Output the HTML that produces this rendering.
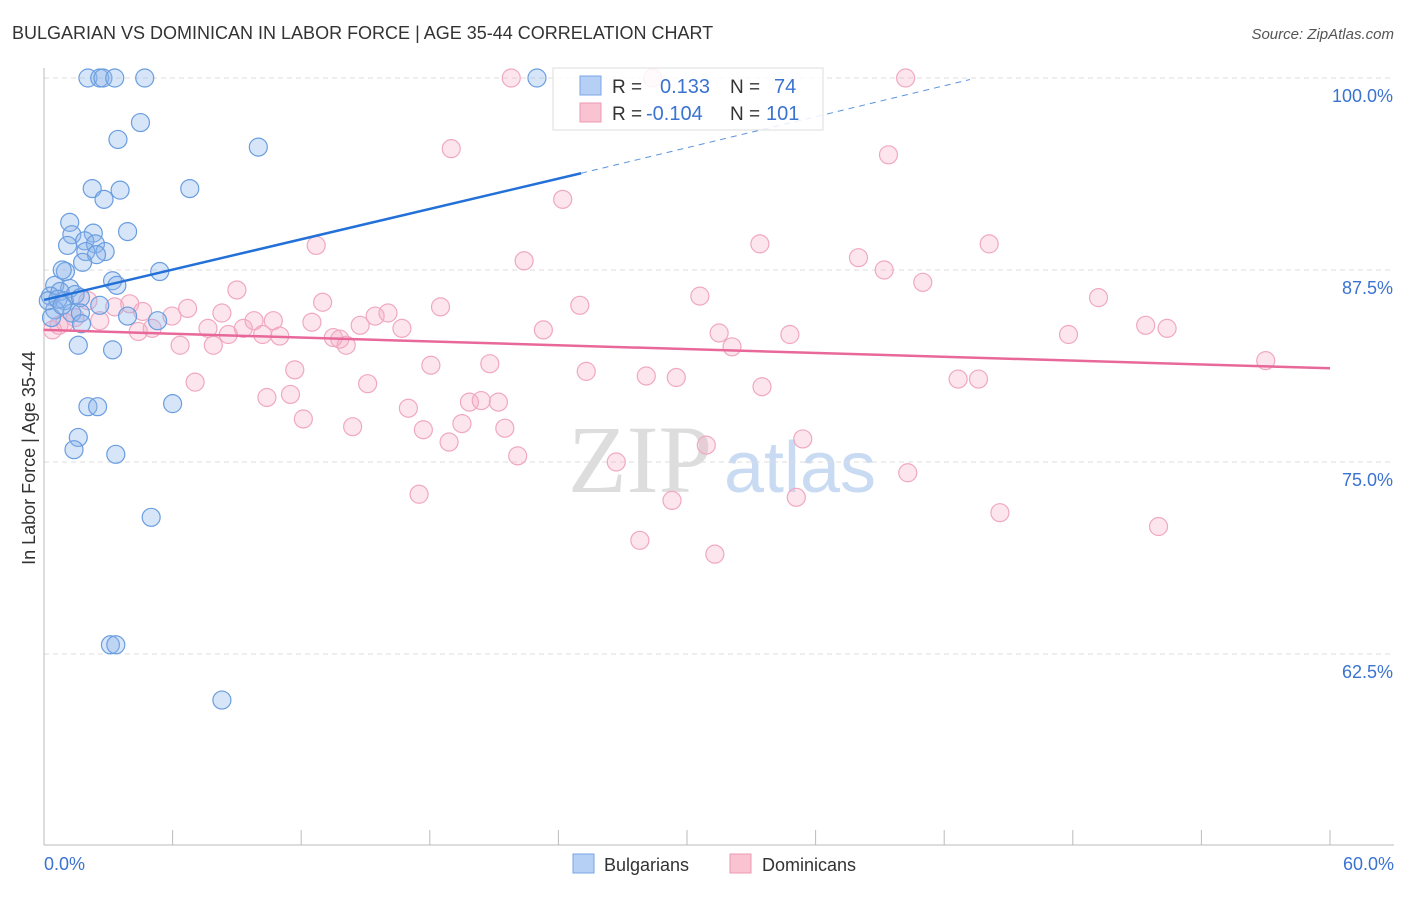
<!DOCTYPE html>
<html><head><meta charset="utf-8"><style>
body{margin:0;background:#fff;font-family:"Liberation Sans",sans-serif;}
</style></head><body>
<svg id="chart" width="1406" height="892" xmlns="http://www.w3.org/2000/svg">
<text x="12" y="39" font-size="18" fill="#333">BULGARIAN VS DOMINICAN IN LABOR FORCE | AGE 35-44 CORRELATION CHART</text>
<text x="1394" y="39" font-size="15" fill="#555" text-anchor="end" font-style="italic">Source: ZipAtlas.com</text>
<text x="35" y="458" font-size="18" fill="#333" text-anchor="middle" transform="rotate(-90 35 458)">In Labor Force | Age 35-44</text>
<text x="640" y="492" font-size="96" fill="#ddd" font-family="Liberation Serif,serif" text-anchor="middle">ZIP</text>
<text x="800" y="492" font-size="72" fill="#c9dbf2" text-anchor="middle">atlas</text>
<g id="grid"></g><g id="pts"></g><g id="lines"></g>
<g>
<rect x="553" y="68" width="270" height="62" fill="#fff" fill-opacity="0.85" stroke="#ddd"/>
<rect x="580" y="76" width="21" height="19" fill="#b5cff5" stroke="#7aa6e6"/>
<rect x="580" y="103" width="21" height="19" fill="#f9c3d2" stroke="#ef9ab3"/>
<text x="612" y="93" font-size="19" fill="#333">R =</text><text x="660" y="93" font-size="20" fill="#3a73d0">0.133</text>
<text x="730" y="93" font-size="19" fill="#333">N =</text><text x="774" y="93" font-size="20" fill="#3a73d0">74</text>
<text x="612" y="120" font-size="19" fill="#333">R =</text><text x="646" y="120" font-size="20" fill="#3a73d0">-0.104</text>
<text x="730" y="120" font-size="19" fill="#333">N =</text><text x="766" y="120" font-size="20" fill="#3a73d0">101</text>
</g>
<g>
<rect x="573" y="854" width="21" height="19" fill="#b5cff5" stroke="#7aa6e6"/>
<text x="604" y="871" font-size="18" fill="#333">Bulgarians</text>
<rect x="730" y="854" width="21" height="19" fill="#f9c3d2" stroke="#ef9ab3"/>
<text x="762" y="871" font-size="18" fill="#333">Dominicans</text>
</g>
</svg>
<script>
const blueX=[2.05,2.6,2.75,3.3,4.7,23.0,4.5,3.45,10.0,2.25,3.55,6.8,2.8,1.2,3.9,1.3,2.3,1.9,2.4,1.1,1.95,2.85,2.45,1.8,1.0,0.85,5.4,3.2,3.4,0.5,1.2,0.75,0.3,1.45,0.95,1.7,2.6,0.5,1.3,1.7,0.35,3.9,1.75,5.3,1.6,3.2,2.05,2.5,6.0,1.6,1.4,3.35,5.0,3.1,3.35,8.3,0.2,0.65,0.85];
const blueY=[100,100,100,100,100,100,97.1,96.0,95.5,92.8,92.7,92.8,92.1,90.6,90.0,89.8,89.9,89.4,89.2,89.1,88.7,88.7,88.5,88.0,87.4,87.5,87.4,86.8,86.5,86.5,86.3,86.1,85.8,85.9,85.5,85.7,85.2,84.9,84.7,84.7,84.4,84.5,84.0,84.2,82.6,82.3,78.6,78.6,78.8,76.6,75.8,75.5,71.4,63.1,63.1,59.5,85.5,85.6,85.2];
const pinkX=[21.8,28.4,40.2,19.0,39.4,24.2,12.7,33.4,44.1,22.4,38.0,39.2,41.0,9.0,30.6,49.2,13.0,18.5,25.0,4.0,6.7,2.05,3.3,8.3,16.05,15.45,5.97,4.6,2.6,0.98,9.8,10.7,12.5,14.75,16.7,23.3,7.65,9.3,4.4,5.05,8.6,10.2,11.0,13.5,13.8,14.1,6.35,7.9,31.5,34.8,47.8,51.4,52.4,32.1,57.0,11.7,18.05,20.8,25.3,28.1,29.5,7.05,15.1,33.5,42.65,43.6,10.4,11.5,19.85,20.4,21.2,17.0,12.1,14.4,17.7,19.5,21.5,18.9,30.9,35.4,22.1,26.7,40.3,17.5,29.3,35.1,44.6,52.0,27.8,31.3,0.4,0.7,1.45];
const pinkY=[100,100,100,95.4,95.0,92.1,89.1,89.2,89.2,88.1,88.3,87.5,86.7,86.2,85.8,85.7,85.4,85.1,85.2,85.3,85.0,85.5,85.1,84.7,84.7,84.5,84.5,84.8,84.2,84.1,84.2,84.2,84.1,83.9,83.7,83.6,83.7,83.7,83.5,83.7,83.3,83.3,83.2,83.1,83.0,82.6,82.6,82.6,83.4,83.3,83.3,83.9,83.7,82.5,81.6,81.0,81.3,81.4,80.9,80.6,80.5,80.2,80.1,79.9,80.4,80.4,79.2,79.4,78.9,79.0,78.9,78.5,77.8,77.3,77.1,77.5,77.2,76.3,76.1,76.5,75.4,75.0,74.3,72.9,72.5,72.7,71.7,70.8,69.9,69.0,83.6,83.9,84.4];
const yTicks=[100,87.5,75,62.5];
const blueTrend=[0,85.55,25.06,93.8,43.2,99.9];
const pinkTrend=[0,83.6,60,81.1];
const X=v=>44+v/60*1286, Y=v=>78+(100-v)/12.5*192;
const NS='http://www.w3.org/2000/svg';
function mk(tag,attrs,parent){const e=document.createElementNS(NS,tag);for(const k in attrs)e.setAttribute(k,attrs[k]);document.getElementById(parent).appendChild(e);return e;}
const g='grid';
yTicks.forEach(t=>{
 const l=mk('line',{x1:44,x2:1394,y1:Y(t),y2:Y(t),stroke:'#ddd','stroke-dasharray':'5,4'},g);
 
 
 const tx=mk('text',{x:1393,y:Y(t)+24,'font-size':18,fill:'#3a73d0','text-anchor':'end'},g);
 tx.textContent=t.toFixed(1)+'%';
 
 
});
let ax=mk('line',{x1:44,x2:44,y1:68,y2:845,stroke:'#bbb'},g);


ax=mk('line',{x1:44,x2:1394,y1:845,y2:845,stroke:'#bbb'},g);


for(let i=1;i<=10;i++){const v=i*6;const t=mk('line',{x1:X(v),x2:X(v),y1:830,y2:845,stroke:'#bbb'},g);
 
 }
let xl=mk('text',{x:44,y:870,'font-size':18,fill:'#3a73d0'},g);xl.textContent='0.0%';


xl=mk('text',{x:1394,y:870,'font-size':18,fill:'#3a73d0','text-anchor':'end'},g);xl.textContent='60.0%';


pinkX.forEach((v,i)=>{const c=mk('circle',{cx:X(v),cy:Y(pinkY[i]),r:9,fill:'rgba(246,170,195,0.3)',stroke:'#f0a8c0','stroke-width':1.2},'pts');
 
 });
blueX.forEach((v,i)=>{const c=mk('circle',{cx:X(v),cy:Y(blueY[i]),r:9,fill:'rgba(140,180,235,0.35)',stroke:'#6a9de0','stroke-width':1.2},'pts');
 
 });
let tl=mk('line',{x1:X(blueTrend[0]),y1:Y(blueTrend[1]),x2:X(blueTrend[2]),y2:Y(blueTrend[3]),stroke:'#2270d8','stroke-width':2.5},'lines');


tl=mk('line',{x1:X(blueTrend[2]),y1:Y(blueTrend[3]),x2:X(blueTrend[4]),y2:Y(blueTrend[5]),stroke:'#5b93de','stroke-width':1,'stroke-dasharray':'6,5'},'lines');


tl=mk('line',{x1:X(pinkTrend[0]),y1:Y(pinkTrend[1]),x2:X(pinkTrend[2]),y2:Y(pinkTrend[3]),stroke:'#e8689a','stroke-width':2.5},'lines');


</script>
</body></html>
